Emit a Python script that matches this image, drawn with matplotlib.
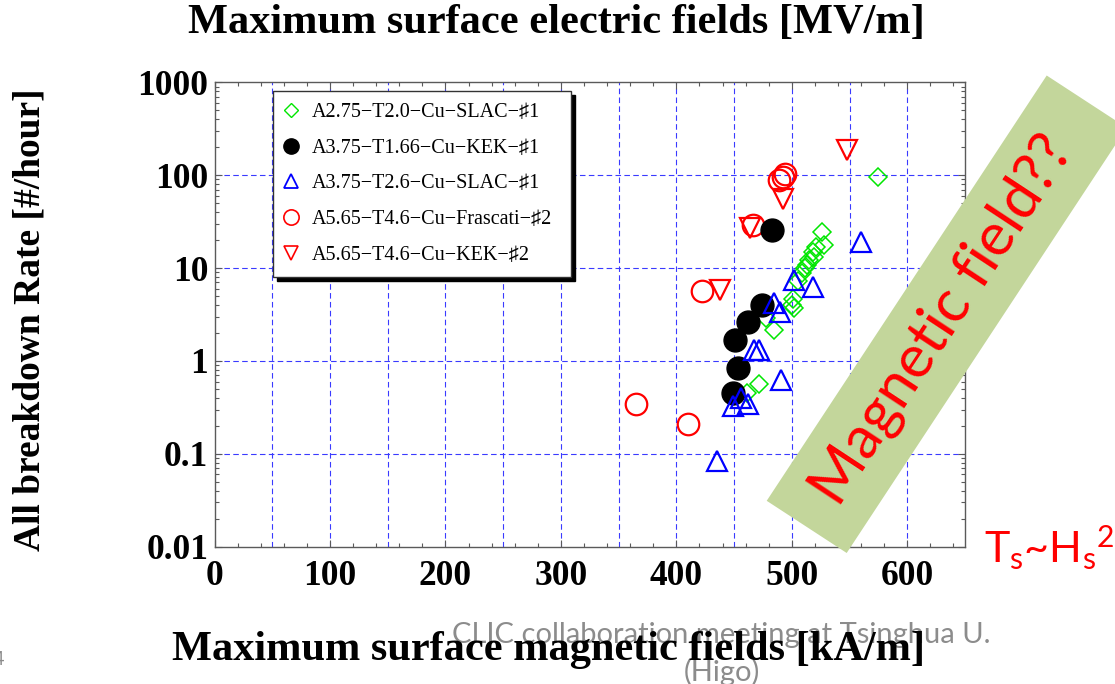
import matplotlib
matplotlib.use('Agg')
import matplotlib.pyplot as plt
from matplotlib.patches import Polygon
from matplotlib.lines import Line2D
from matplotlib.ticker import FixedLocator, FixedFormatter, LogLocator, NullFormatter, MultipleLocator

# ---------------- data ----------------
series_labels = ['A2.75−T2.0−Cu−SLAC−♯1', 'A3.75−T1.66−Cu−KEK−♯1',
                 'A3.75−T2.6−Cu−SLAC−♯1', 'A5.65−T4.6−Cu−Frascati−♯2',
                 'A5.65−T4.6−Cu−KEK−♯2']

a275_slac1_h = [461, 472, 478, 485, 500, 502, 501, 505, 509, 511, 513, 515, 518, 519, 521, 526, 528, 575]
a275_slac1_r = [0.45, 0.56, 2.9, 2.15, 4.0, 3.7, 4.6, 7.2, 8.8, 10.0, 10.8, 12.2, 15.0, 13.2, 17.0, 24.5, 17.6, 96]

a375_kek1_h = [449, 453.5, 450.5, 462, 474, 482.5]
a375_kek1_r = [0.45, 0.83, 1.68, 2.65, 4.0, 26]

a375_slac1_h = [435, 449, 456, 462, 467, 472, 491, 485, 490, 502, 518, 560]
a375_slac1_r = [0.083, 0.33, 0.40, 0.34, 1.31, 1.31, 0.62, 4.2, 3.4, 7.4, 6.3, 19]

a565_frascati2_h = [365, 410, 422, 466.5, 489, 492, 494]
a565_frascati2_r = [0.345, 0.21, 5.6, 29, 88, 96, 103]

a565_kek2_h = [438, 463.5, 492, 548]
a565_kek2_r = [5.8, 27, 56, 185]

x_ticks = [0, 100, 200, 300, 400, 500, 600]
x_tick_labels = ['0', '100', '200', '300', '400', '500', '600']
y_ticks = [0.01, 0.1, 1, 10, 100, 1000]
y_tick_labels = ['0.01', '0.1', '1', '10', '100', '1000']
grid_x = [50, 100, 150, 200, 250, 300, 350, 400, 450, 500, 550, 600]
grid_y = [0.1, 1, 10, 100]

title_text = 'Maximum surface electric fields [MV/m]'
xlabel_text = 'Maximum surface magnetic fields [kA/m]'
ylabel_text = 'All breakdown Rate [#/hour]'

# ---------------- figure ----------------
W, H = 1115, 684
fig = plt.figure(figsize=(W / 100, H / 100), dpi=100)
fig.patch.set_facecolor('white')

def fx(px):
    return px / W

def fy(py):
    return 1 - py / H

ax_l, ax_r, ax_t, ax_b = 214.5, 965.0, 82.3, 546.7
ax = fig.add_axes([fx(ax_l), fy(ax_b), (ax_r - ax_l) / W, (ax_b - ax_t) / H])
ax.set_xlim(0, 650)
ax.set_yscale('log')
ax.set_ylim(0.01, 1000)

serif = 'Liberation Serif'
frame_col = '#5a5a5a'
for s in ax.spines.values():
    s.set_color(frame_col)
    s.set_linewidth(1.0)

# grid
gcol = '#3a3aff'
ax.vlines(grid_x, 0.01, 1000, colors=gcol, linewidth=0.8, linestyles=(0, (5, 3)), zorder=1)
ax.hlines(grid_y, 0, 650, colors=gcol, linewidth=0.8, linestyles=(0, (5, 3)), zorder=1)

# data
green = '#00e600'
ax.plot(a565_frascati2_h, a565_frascati2_r, ls='none', marker='o', ms=15.5, mfc='none', mec='red', mew=1.6, zorder=3)
ax.plot(a565_kek2_h, a565_kek2_r, ls='none', marker='v', ms=14.5, mfc='none', mec='red', mew=1.6, zorder=3)
ax.plot(a275_slac1_h, a275_slac1_r, ls='none', marker='D', ms=9.5, mfc='none', mec=green, mew=1.1, zorder=4)
ax.plot(a375_kek1_h, a375_kek1_r, ls='none', marker='o', ms=16.5, mfc='black', mec='black', zorder=5)
ax.plot(a375_slac1_h, a375_slac1_r, ls='none', marker='^', ms=14, mfc='none', mec='blue', mew=1.6, zorder=6)

# ticks
ax.xaxis.set_major_locator(FixedLocator(x_ticks))
ax.xaxis.set_major_formatter(FixedFormatter(x_tick_labels))
ax.xaxis.set_minor_locator(MultipleLocator(20))
ax.yaxis.set_major_locator(FixedLocator(y_ticks))
ax.yaxis.set_major_formatter(FixedFormatter(y_tick_labels))
ax.yaxis.set_minor_locator(LogLocator(base=10, subs=range(2, 10), numticks=20))
ax.yaxis.set_minor_formatter(NullFormatter())
ax.tick_params(which='both', direction='in', top=True, right=True, color=frame_col, width=0.8)
ax.tick_params(which='major', length=5)
ax.tick_params(which='minor', length=3)
ax.tick_params(axis='x', which='major', pad=9.5)
ax.tick_params(axis='y', which='major', pad=4.5)
for lab in ax.get_xticklabels() + ax.get_yticklabels():
    lab.set_fontfamily(serif)
    lab.set_fontweight('bold')
    lab.set_fontsize(25.5)

# labels
ax.set_title(title_text, fontfamily=serif, fontweight='bold', fontsize=30.5,
             x=(556 - ax_l) / (ax_r - ax_l), y=(H - 41 - (H - ax_b)) / (ax_b - ax_t))
ax.set_xlabel(xlabel_text, fontfamily=serif, fontweight='bold', fontsize=30.5)
ax.xaxis.set_label_coords((548 - ax_l) / (ax_r - ax_l), (H - 660 - (H - ax_b)) / (ax_b - ax_t))
ax.xaxis.label.set_verticalalignment('baseline')
ax.set_ylabel(ylabel_text, fontfamily=serif, fontweight='bold', fontsize=27)
ax.yaxis.set_label_coords((30 - ax_l) / (ax_r - ax_l), (H - 320 - (H - ax_b)) / (ax_b - ax_t))
ax.yaxis.label.set_verticalalignment('center')

# legend
handles = [
    Line2D([], [], ls='none', marker='D', ms=7, mfc='none', mec=green, mew=1.0),
    Line2D([], [], ls='none', marker='o', ms=11, mfc='black', mec='black'),
    Line2D([], [], ls='none', marker='^', ms=9.5, mfc='none', mec='blue', mew=1.3),
    Line2D([], [], ls='none', marker='o', ms=11, mfc='none', mec='red', mew=1.2),
    Line2D([], [], ls='none', marker='v', ms=9.5, mfc='none', mec='red', mew=1.2),
]
leg_left = (273 - ax_l) / (ax_r - ax_l)
leg_top = (ax_b - 91) / (ax_b - ax_t)
leg_w = 298 / (ax_r - ax_l)
leg = ax.legend(handles, series_labels, loc='upper left', mode='expand',
                bbox_to_anchor=(leg_left, leg_top - 0.5, leg_w, 0.5), borderaxespad=0,
                prop={'family': [serif, 'DejaVu Sans'], 'size': 14.5},
                handlelength=0.6, handletextpad=0.75, borderpad=0.6, labelspacing=0.82,
                fancybox=False, framealpha=1, edgecolor='#333333',
                shadow={'ox': 3, 'oy': -3, 'facecolor': 'black', 'edgecolor': 'black', 'alpha': 1})
leg.get_frame().set_linewidth(1.0)
leg.set_zorder(10)

# slide overlay: rotated olive band with red text
band = Polygon([[fx(766.7), fy(500.8)], [fx(846.7), fy(553)], [fx(1126.7), fy(127.7)], [fx(1046.7), fy(75.5)]],
               closed=True, transform=fig.transFigure, facecolor='#c3d69b', edgecolor='none', zorder=5)
fig.add_artist(band)
fig.text(fx(942), fy(320), 'Magnetic field??', rotation=56.6, rotation_mode='anchor',
         ha='center', va='center', color='red', fontsize=43, fontfamily='Lato', zorder=6)
fig.text(fx(984), fy(563), r'$\mathregular{T_s}$~$\mathregular{H_s{}^2}$', ha='left', va='baseline',
         color='red', fontsize=31, fontfamily='Lato', zorder=6)

# slide footer
wm = '#8c8c8c'
fig.text(fx(721), fy(643), 'CLIC collaboration meeting at Tsinghua U.', ha='center', va='baseline',
         color=wm, fontsize=21, fontfamily='Lato', zorder=-1)
fig.text(fx(722), fy(681), '(Higo)', ha='center', va='baseline',
         color=wm, fontsize=21, fontfamily='Lato', zorder=-1)
fig.text(fx(5), fy(665), '14', ha='right', va='baseline', color=wm, fontsize=14, fontfamily='Lato', zorder=-1)

fig.savefig('out.png', dpi=100, facecolor='white')
